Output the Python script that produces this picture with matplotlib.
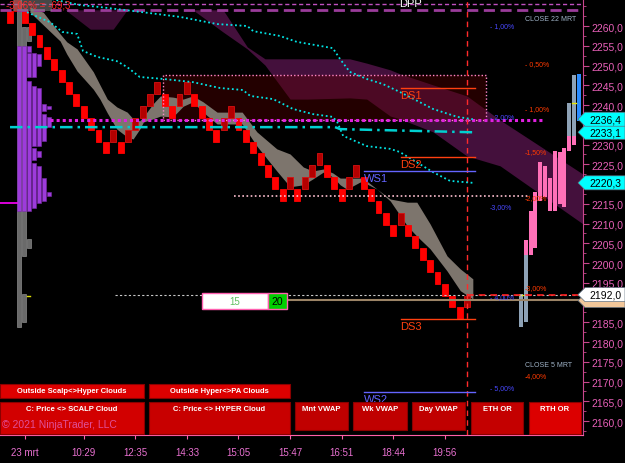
import matplotlib
matplotlib.use("Agg")
import numpy as np
import matplotlib.pyplot as plt
from matplotlib.patches import Rectangle, Polygon

plt.rcParams['font.family'] = ['Liberation Sans', 'DejaVu Sans']

# --- renko bricks (level k -> brick from BASE + 3k to BASE + 3k + 3) ---
BOX = 3.0
BASE = 2185.75
brick_level = [25, 26, 25, 24, 23, 22, 21, 20, 19, 18,
               17, 16, 15, 14, 15, 14, 15, 16, 17, 18,
               19, 18, 17, 18, 19, 18, 17, 16, 15, 16,
               17, 16, 15, 14, 13, 12, 11, 10, 11, 10,
               11, 12, 13, 12, 11, 10, 11, 12, 11, 10,
               9, 8, 7, 8, 7, 6, 5, 4, 3, 2,
               1, 0, 1]

# --- time axis ---
tick_pos = [2, 10, 17, 24, 31, 38, 45, 52, 59]
tick_lab = ["23 mrt", "10:29", "12:35", "14:33", "15:05", "15:47", "16:51", "18:44", "19:56"]

# --- scalp cloud (grey band) ---
band_x = [2.7, 4.5, 6.8, 7.7, 9.1, 11.3, 12.2, 13.2, 14.5, 15.9, 16.7, 17.6, 18.1, 19.4,
          20.4, 22.1, 23.5, 24.8, 26.2, 28.1, 31.5, 33.5, 36.2, 38.0, 39.8, 41.1, 42.5,
          43.8, 44.8, 45.7, 47.5, 47.9, 49.8, 51.6, 53.9, 55.2, 57.0, 59.3, 61.1, 62.8]
band_hi = [2264.8, 2263.5, 2258.0, 2256.0, 2254.2, 2248.4, 2245.1, 2241.5, 2239.5, 2238.2,
           2236.5, 2236.0, 2237.0, 2240.3, 2242.3, 2242.0, 2241.5, 2242.3, 2240.8, 2238.2,
           2238.2, 2233.2, 2228.9, 2227.6, 2224.3, 2223.3, 2223.8, 2222.8, 2221.5, 2221.5,
           2221.5, 2221.5, 2218.7, 2216.2, 2215.4, 2215.4, 2209.9, 2201.8, 2198.5, 2196.0]
band_lo = [2263.5, 2260.3, 2256.2, 2252.9, 2248.6, 2244.0, 2241.5, 2238.0, 2233.9, 2231.9,
           2231.4, 2233.9, 2235.7, 2236.5, 2237.2, 2237.0, 2239.7, 2240.8, 2238.2, 2235.2,
           2235.2, 2229.6, 2223.3, 2219.3, 2219.8, 2221.3, 2223.0, 2221.8, 2219.8, 2218.7,
           2220.5, 2220.5, 2218.7, 2215.7, 2209.4, 2206.8, 2203.6, 2198.0, 2193.0, 2190.9]

# --- hyper / PA cloud (magenta) ---
cloud_x = [24.8, 28.9, 32.2, 34.6, 38.0, 40.3, 46.1, 48.4, 51.6, 52.9, 57.4, 62.0, 66.5, 77.75]
cloud_hi = [2264.1, 2264.1, 2254.7, 2251.7, 2251.7, 2251.7, 2251.7, 2250.6, 2248.9, 2247.9,
            2245.1, 2242.3, 2236.2, 2222.5]
cloud_lo = [2264.1, 2258.5, 2254.2, 2250.1, 2241.5, 2241.5, 2241.8, 2241.5, 2237.2, 2236.5,
            2233.2, 2227.1, 2224.6, 2209.9]
wedge_x = [7.5, 10.9, 14.0, 15.9]
wedge_hi = [2264.1, 2264.1, 2264.1, 2264.1]
wedge_lo = [2264.1, 2259.2, 2259.2, 2264.1]

# --- vwap-like lines ---
lineA_x = [5.7, 9.5, 12.2, 16.7, 23.1, 28.1, 32.2, 33.0, 36.6, 38.9, 43.8, 44.8, 46.1, 48.4,
           50.6, 52.9, 57.4, 60.7, 62.8]
lineA_y = [2266.8, 2265.3, 2264.8, 2263.8, 2262.3, 2260.5, 2260.0, 2258.7, 2257.5, 2256.0,
           2254.4, 2251.6, 2248.4, 2246.6, 2245.3, 2243.3, 2239.0, 2237.0, 2236.4]
lineB_x = [2.3, 5.4, 7.1, 9.1, 9.9, 11.8, 14.5, 15.9, 17.6, 20.8, 24.8, 28.5, 31.6, 32.6,
           35.7, 38.4, 41.1, 43.8, 44.4, 45.2, 48.4, 51.6, 52.9, 57.4, 59.7, 62.8]
lineB_y = [2263.5, 2261.0, 2258.5, 2258.0, 2253.7, 2252.2, 2251.1, 2249.6, 2247.1, 2246.6,
           2245.8, 2244.3, 2243.8, 2242.3, 2241.5, 2239.0, 2237.7, 2237.0, 2235.7, 2232.2,
           2229.6, 2228.9, 2228.1, 2223.0, 2220.8, 2220.3]
lineC_x = [0.0, 44.1, 44.8, 62.8]
lineC_y = [2234.4, 2234.4, 2233.9, 2233.1]

# --- pivot levels ---
level_names = ["DS1", "DS2", "WS1", "DS3", "WS2"]
level_price = [2244.3, 2226.8, 2223.3, 2185.8, 2167.3]
level_start = [53.0, 53.0, 48.0, 53.0, 48.0]
level_end = 63.1

# --- percent labels ---
pct_text = ["- 1,00%", "- 0,50%", "- 1,00%", "- 2,00%", "-1,50%", "-2,00%",
            "-3,00%", "-3,00%", "- 4,00%", "-4,00%", "- 5,00%"]
pct_price = [2260.0, 2250.6, 2239.2, 2237.2, 2228.1, 2216.7, 2214.4, 2193.9, 2191.4, 2171.4, 2168.6]
pct_blue = [True, False, False, True, False, False, True, False, True, False, True]

# --- right side session bars ---
rb_gray = [(2183.8, 2192.2), (2185.1, 2202.0), None, None, None, None, None, None, None, None,
           (2232.2, 2240.5), (2232.2, 2247.6), None]
rb_pink = [None, (2202.0, 2205.8), (2202.0, 2213.2), (2203.8, 2218.0), (2215.7, 2225.6),
           (2216.7, 2224.6), (2213.2, 2221.5), (2213.2, 2228.4), (2214.9, 2228.1),
           (2214.2, 2229.1), (2228.4, 2232.2), (2229.9, 2232.2), None]
rb_blue = [None] * 12 + [(2236.0, 2247.9)]

# --- left volume profile columns ---
prof_col = [0, 1, 2, 2, 2, 3, 3, 3, 3, 4, 4, 4, 4, 5, 5, 5, 6, 6, 6]
prof_lo = [2213.2, 2213.2, 2253.4, 2247.1, 2213.2, 2247.1, 2229.6, 2226.1, 2213.9, 2249.9,
           2229.6, 2226.8, 2215.2, 2238.5, 2230.9, 2215.7, 2239.0, 2234.4, 2217.0]
prof_hi = [2254.9, 2254.9, 2254.9, 2253.2, 2246.1, 2253.2, 2244.8, 2229.1, 2225.3, 2252.9,
           2244.3, 2228.4, 2224.6, 2240.3, 2237.7, 2221.5, 2239.7, 2237.0, 2218.0]
gprof_col = [0, 1, 1, 2, 2]
gprof_lo = [2183.8, 2201.8, 2185.1, 2203.8, 2256.2]
gprof_hi = [2266.8, 2259.7, 2192.2, 2206.1, 2259.7]

# --- price flags on the axis (tan one sits mostly behind the white one) ---
flag_price = [2190.5, 2192.0, 2220.3, 2233.1, 2236.4]
flag_text = ["", "2192,0", "2220,3", "2233,1", "2236,4"]
flag_color = ["#f2c79a", "#ffffff", "#00ffff", "#00ffff", "#00ffff"]
hidden_ticks = [2190, 2220, 2235]

W, H = 625, 464
fig = plt.figure(figsize=(W / 100, H / 100), dpi=100, facecolor="black")
ax = fig.add_axes([0, 28 / H, 583 / W, 436 / H], facecolor="black")
ax.set_xlim(-1.36, 77.75)
ax.set_ylim(2156.46, 2266.84)

# clouds
ax.fill_between(cloud_x, cloud_hi, cloud_lo, color="#44103c", lw=0, zorder=1)
ax.fill_between(wedge_x, wedge_hi, wedge_lo, color="#3a0c32", lw=0, zorder=1)
ax.add_patch(Rectangle((20.8, 2236.2), 64.6 - 20.8, 2247.6 - 2236.2, facecolor="#5a0000",
                       alpha=0.4, edgecolor="none", zorder=1.5))
ax.add_patch(Rectangle((20.8, 2236.2), 64.6 - 20.8, 2247.6 - 2236.2, facecolor="none",
                       edgecolor="#ff88c8", lw=1, ls=(0, (1, 1.5)), zorder=5))

# left profile
px0, pstep, pw = 0.95, 0.678, 0.58
for c, lo, hi in zip(gprof_col, gprof_lo, gprof_hi):
    ax.bar(px0 + c * pstep, hi - lo, bottom=lo, width=pw, align="edge",
           color="#6a6a6a", edgecolor="#8a8a8a", lw=0.5, zorder=2)
for c, lo, hi in zip(prof_col, prof_lo, prof_hi):
    ax.bar(px0 + c * pstep, hi - lo, bottom=lo, width=pw, align="edge",
           color="#9d3bdb", edgecolor="#7a2aaa", lw=0.4, zorder=2.2)
ax.plot([px0 + 2 * pstep, px0 + 2.6 * pstep], [2191.7, 2191.7], color="#e0e000", lw=1, zorder=2.3)
ax.plot([-1.36, 0.95], [2215.2, 2215.2], color="#ff00ff", lw=1.2, zorder=2.3)

# grey band and bricks
ax.fill_between(band_x, band_hi, band_lo, color="#7d756d", lw=0, zorder=3)
bottoms = [BASE + BOX * k for k in brick_level]
ups = [i > 0 and brick_level[i] > brick_level[i - 1] for i in range(len(brick_level))]
ax.bar(range(len(brick_level)), BOX, bottom=bottoms, width=0.8,
       color=["#b40000" if u else "#ff0000" for u in ups],
       edgecolor=["#d81010" if u else "#ff0000" for u in ups], lw=0.6, zorder=4)

# right session bars
rx0, rstep, rw = 69.33, 0.656, 0.55
for j in range(len(rb_pink)):
    xj = rx0 + j * rstep
    for seg, col in ((rb_gray[j], "#8ea2b6"), (rb_pink[j], "#ff70b8"), (rb_blue[j], "#2a8cff")):
        if seg:
            ax.bar(xj, seg[1] - seg[0], bottom=seg[0], width=rw, color=col, lw=0, zorder=4)
ax.plot([rx0 - 0.25, rx0 + 0.25], [2192.0, 2192.0], color="#e8e800", lw=1, zorder=4.5)
ax.plot([rx0 + 11 * rstep - 0.25, rx0 + 11 * rstep + 0.25], [2240.5, 2240.5], color="#e8e800", lw=1, zorder=4.5)

# horizontal lines
xr = 77.75
ax.plot([-1.36, xr], [2265.6, 2265.6], color="#c050c0", lw=1, ls=(0, (3, 2)), zorder=5)
ax.plot([-1.36, xr], [2264.1, 2264.1], color="#9a3c9a", lw=2, ls=(0, (4, 2)), zorder=5)
ax.plot([5.4, 72.3], [2236.2, 2236.2], color="#e020e0", lw=2.2, ls=(0, (1, 1)), zorder=5)
ax.plot([30.4, 70.6], [2217.0, 2217.0], color="#ffc0d0", lw=1.2, ls=(0, (1, 1.5)), zorder=5)
ax.plot([14.2, xr], [2192.0, 2192.0], color="#c8c8c8", lw=0.8, ls=(0, (2, 2)), zorder=5)
ax.plot([37.6, xr], [2190.7, 2190.7], color="#9c8466", lw=1.5, zorder=5)
ax.plot([62.0, xr], [2192.0, 2192.0], color="#ff2020", lw=1.2, ls=(0, (4, 3)), zorder=5.2)
ax.axvline(62.0, color="#ff2a2a", lw=1, ls=(0, (4, 3)), zorder=5)

ax.plot(lineA_x, lineA_y, color="#00e5e5", lw=1.3, ls=(0, (1, 1.5)), zorder=5)
ax.plot(lineB_x, lineB_y, color="#00e5e5", lw=1.3, ls=(0, (1, 1.5)), zorder=5)
ax.plot(lineC_x, lineC_y, color="#00d0d0", lw=1.8, ls=(0, (5, 2, 1, 2)), zorder=5)

for name, p, s in zip(level_names, level_price, level_start):
    col = "#ff4010" if name.startswith("D") else "#6464ff"
    ax.plot([s, level_end], [p, p], color=col, lw=1, zorder=5)
    ax.text(s, p - 0.5, name, color=col, fontsize=8, va="top", ha="left", zorder=5)

for t, p, b in zip(pct_text, pct_price, pct_blue):
    ax.text(65.1 if b else 69.9, p, t, color="#4848ff" if b else "#ff3a00",
            fontsize=5, va="center", ha="left", zorder=5)
ax.text(69.9, 2261.8, "CLOSE 22 MRT", color="#a0b4c8", fontsize=5, va="center", zorder=5)
ax.text(69.9, 2174.4, "CLOSE 5 MRT", color="#a0b4c8", fontsize=5, va="center", zorder=5)
ax.text(54.4, 2265.9, "DPP", color="white", fontsize=8, ha="center", va="center", zorder=6)

# axes styling
ax.yaxis.tick_right()
yt = np.arange(2160, 2261, 5)
ax.set_yticks(yt)
ax.set_yticklabels(["" if v in hidden_ticks else f"{v:.1f}".replace(".", ",") for v in yt])
ax.set_yticks(np.arange(2157.5, 2266, 2.5), minor=True)
ax.tick_params(axis="y", which="major", colors="#c8468c", labelcolor="#e860b8",
               labelsize=7.5, length=4, pad=2)
ax.tick_params(axis="y", which="minor", colors="#c8468c", length=2)
ax.set_xticks(tick_pos)
ax.set_xticklabels(tick_lab)
ax.tick_params(axis="x", colors="#ff5fa8", labelcolor="#e870d0", labelsize=7, length=3, pad=6)
for s in ("left", "top"):
    ax.spines[s].set_visible(False)
ax.spines["right"].set_color("#c8468c")
ax.spines["bottom"].set_color("#ff5fa8")


def fig_rect(x0, x1, y0, y1, **kw):
    fig.add_artist(Rectangle((x0 / W, 1 - y1 / H), (x1 - x0) / W, (y1 - y0) / H,
                             transform=fig.transFigure, **kw))


def fig_text(x, y, s, **kw):
    fig.text(x / W, 1 - y / H, s, **kw)


# flags on the price axis
for n, (p, t, c) in enumerate(zip(flag_price, flag_text, flag_color)):
    yd = ax.transData.transform((0, p))[1] / H
    h = 7 / H
    pts = [(578 / W, yd), (585 / W, yd + h), (1.0, yd + h), (1.0, yd - h), (585 / W, yd - h)]
    fig.add_artist(Polygon(pts, closed=True, transform=fig.transFigure, facecolor=c,
                           edgecolor="#607080", lw=0.5, zorder=8 + 2 * n))
    if t:
        fig.text(605 / W, yd, t, color="black", fontsize=7.5, ha="center", va="center",
                 zorder=9 + 2 * n)

# top-left info
fig_rect(13, 52, 0, 12, facecolor="#808080", alpha=0.55, edgecolor="none", zorder=6)
fig_text(6, 6, "-3,06% = -69,3", color="#ff2828", fontsize=7, va="center", ha="left", zorder=7)

# 15 | 20 box
fig_rect(202, 268, 294, 310, facecolor="white", edgecolor="#ff60b0", lw=1, zorder=7)
fig_rect(268, 287, 294, 310, facecolor="#00d000", edgecolor="#ff60b0", lw=1, zorder=7)
fig_text(235, 302, "15", color="#60c060", fontsize=7, ha="center", va="center", zorder=8)
fig_text(277.5, 302, "20", color="black", fontsize=7.5, ha="center", va="center", zorder=8)

# buttons
btn_labels = ["Outside Scalp<>Hyper Clouds", "Outside Hyper<>PA Clouds",
              "C: Price <> SCALP Cloud", "C: Price <> HYPER Cloud", "Mnt VWAP", "Wk VWAP",
              "Day VWAP", "ETH OR", "RTH OR"]
btn_box = [(0, 144, 385, 399), (149, 290, 385, 399), (0, 144, 403, 435), (149, 290, 403, 435),
           (295, 348, 403, 431), (353, 407, 403, 431), (412, 465, 403, 431),
           (471, 523, 403, 435), (529, 581, 403, 435)]
btn_face = ["#dd0000", "#dd0000", "#d20000", "#c80000", "#c00000", "#c00000", "#c00000",
            "#c40000", "#dc0000"]
for lab, (x0, x1, y0, y1), fc in zip(btn_labels, btn_box, btn_face):
    fig_rect(x0, x1, y0, y1, facecolor=fc, edgecolor="#8a0000", lw=0.8, zorder=7)
    fig_text((x0 + x1) / 2, y0 + 6.5, lab, color="white", fontsize=5.5, fontweight="bold",
             ha="center", va="center", zorder=8)
fig_text(2, 425, "© 2021 NinjaTrader, LLC", color="#e0509a", fontsize=7.5, ha="left",
         va="center", zorder=9)

fig.savefig("out.png", dpi=100, facecolor="black")
